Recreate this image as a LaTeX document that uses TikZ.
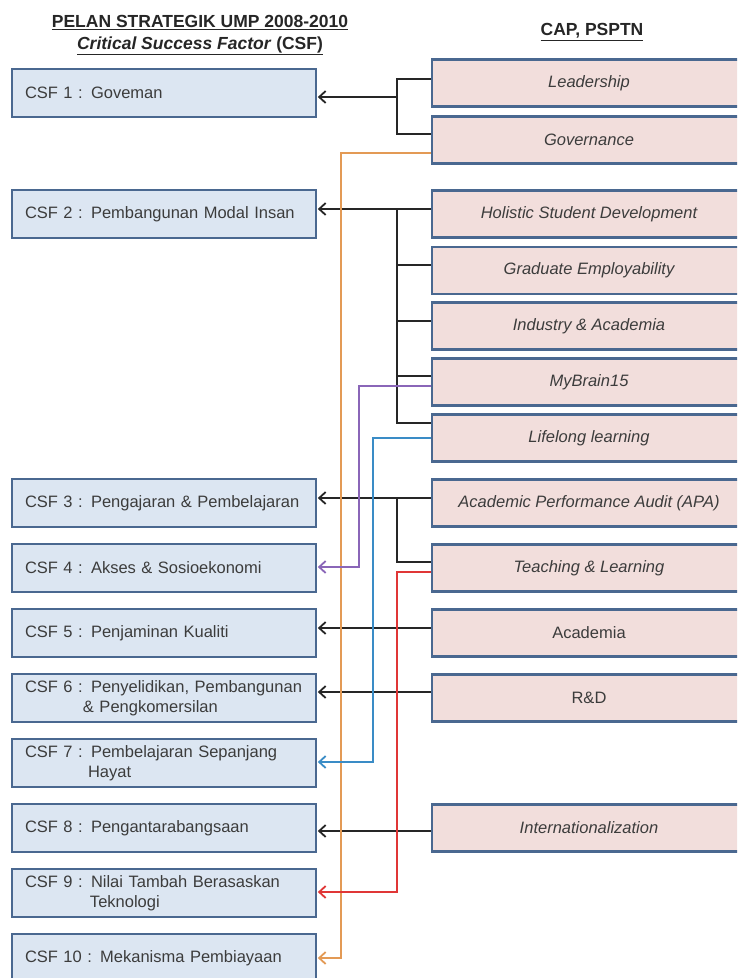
\documentclass[tikz,border=0pt]{standalone}
\usepackage{fontspec}
\setmainfont{Liberation Sans}
\usetikzlibrary{arrows.meta}
\definecolor{boxline}{HTML}{4A6890}
\definecolor{csffill}{HTML}{DCE6F2}
\definecolor{capfill}{HTML}{F2DEDC}
\definecolor{txt}{HTML}{3C3C3C}
\definecolor{titlec}{HTML}{262626}
\definecolor{blk}{HTML}{262626}
\definecolor{orng}{HTML}{E39A55}
\definecolor{purp}{HTML}{8A66B8}
\definecolor{blu}{HTML}{3A8CC6}
\definecolor{redc}{HTML}{E03636}
\begin{document}
\begin{tikzpicture}[x=1pt,y=-1pt,
  csf/.style={draw=boxline, line width=2.7pt, fill=csffill, minimum width=304pt, minimum height=48pt,
    text width=278pt, inner xsep=13pt, inner ysep=0pt, align=left,
    font=\fontsize{16.5}{20}\selectfont, text=txt},
  capbox/.style={draw=boxline, line width=2.7pt, fill=capfill, minimum width=314pt, minimum height=47pt,
    align=center, font=\fontsize{16.5}{20}\selectfont\itshape, text=txt},
  upr/.style={font=\fontsize{16.5}{20}\selectfont},
  conn/.style={line width=2.1pt, draw=blk},
  tip/.style={-{Straight Barb[length=6.5pt,width=12pt,line width=1.8pt]}, shorten >=0.5pt},
  head/.style={font=\fontsize{17.5}{22}\selectfont\bfseries, align=center, text=titlec}
]
\useasboundingbox (0,0) rectangle (737,978);
\clip (0,0) rectangle (737,978);
\fill[white] (0,0) rectangle (737,978);

% headers
\node[head] (title) at (200,35) {\underline{PELAN STRATEGIK UMP 2008-2010}\\\underline{\textit{Critical Success Factor} (CSF)}};
\node[head] (captitle) at (592,32) {\underline{CAP, PSPTN}};

% left boxes
\node[csf] (csf1) at (164,93) {CSF 1 : Goveman};
\node[csf] (csf2) at (164,214) {CSF 2 : Pembangunan Modal Insan};
\node[csf] (csf3) at (164,503) {CSF 3 : Pengajaran \& Pembelajaran};
\node[csf] (csf4) at (164,568) {CSF 4 : Akses \& Sosioekonomi};
\node[csf] (csf5) at (164,633) {CSF 5 : Penjaminan Kualiti};
\node[csf] (csf6) at (164,698) {CSF 6 : Penyelidikan, Pembangunan\\\hspace*{58pt}\& Pengkomersilan};
\node[csf] (csf7) at (164,763) {CSF 7 : Pembelajaran Sepanjang\\\hspace*{63pt}Hayat};
\node[csf] (csf8) at (164,828) {CSF 8 : Pengantarabangsaan};
\node[csf] (csf9) at (164,893) {CSF 9 : Nilai Tambah Berasaskan\\\hspace*{65pt}Teknologi};
\node[csf] (csf10) at (164,958) {CSF 10 : Mekanisma Pembiayaan};

% right boxes
\node[capbox] (r1) at (589,83) {Leadership};
\node[capbox] (r2) at (589,140) {Governance};
\node[capbox] (r3) at (589,214) {Holistic Student Development};
\node[capbox] (r4) at (589,270.5) {Graduate Employability};
\node[capbox] (r5) at (589,326) {Industry \& Academia};
\node[capbox] (r6) at (589,382) {MyBrain15};
\node[capbox] (r7) at (589,438) {Lifelong learning};
\node[capbox] (r8) at (589,503) {Academic Performance Audit (APA)};
\node[capbox] (r9) at (589,568) {Teaching \& Learning};
\node[capbox,upr] (r10) at (589,633) {Academia};
\node[capbox,upr] (r11) at (589,698) {R\&D};
\node[capbox] (r12) at (589,828) {Internationalization};

% junction coordinates
\coordinate (j1) at (397,97);
\coordinate (j2) at (397,209);
\coordinate (j3) at (397,498);
\coordinate (o1) at (341,958);
\coordinate (p1) at (359,567);
\coordinate (b1) at (373,762);
\coordinate (rd) at (397,892);

% black connectors
\draw[conn] ([yshift=4pt]r1.west) -| (j1);
\draw[conn] ([yshift=6pt]r2.west) -| (j1);
\draw[conn,tip] (j1) -- (j1 -| csf1.east);

\draw[conn,tip] ([yshift=5pt]r3.west) -- ([yshift=5pt]r3.west -| csf2.east);
\draw[conn] ([yshift=15pt]r7.west) -| (j2);
\draw[conn] ([yshift=5.5pt]r4.west) -- ([yshift=5.5pt]r4.west -| j2);
\draw[conn] ([yshift=5pt]r5.west) -- ([yshift=5pt]r5.west -| j2);
\draw[conn] ([yshift=6pt]r6.west) -- ([yshift=6pt]r6.west -| j2);

\draw[conn,tip] ([yshift=5pt]r8.west) -- ([yshift=5pt]r8.west -| csf3.east);
\draw[conn] ([yshift=6pt]r9.west) -| (j3);

\draw[conn,tip] ([yshift=5pt]r10.west) -- ([yshift=5pt]r10.west -| csf5.east);
\draw[conn,tip] ([yshift=6pt]r11.west) -- ([yshift=6pt]r11.west -| csf6.east);
\draw[conn,tip] ([yshift=-3pt]r12.west) -- ([yshift=-3pt]r12.west -| csf8.east);

% coloured connectors
\draw[conn,draw=orng,tip] ([yshift=-13pt]r2.west) -| (o1) -- (o1 -| csf10.east);
\draw[conn,draw=blu,tip] (r7.west) -| (b1) -- (b1 -| csf7.east);
\draw[conn,draw=purp,tip] ([yshift=-4pt]r6.west) -| (p1) -- (p1 -| csf4.east);
\draw[conn,draw=redc,tip] ([yshift=-4pt]r9.west) -| (rd) -- (rd -| csf9.east);
\end{tikzpicture}
\end{document}
